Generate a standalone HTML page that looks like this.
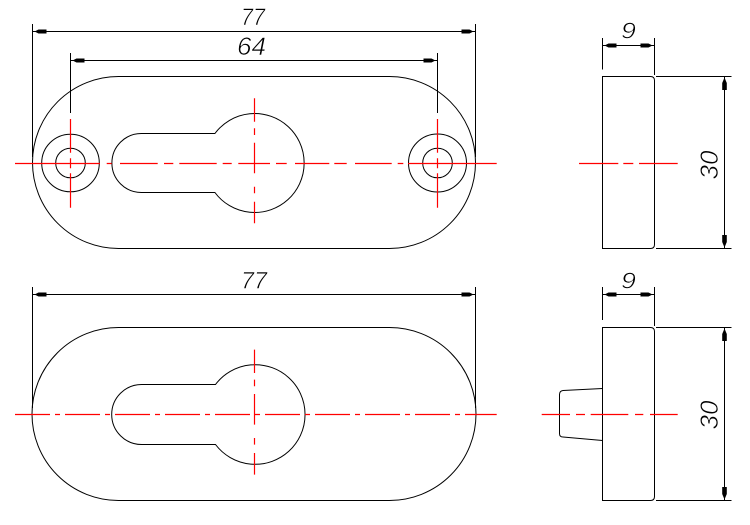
<!DOCTYPE html>
<html>
<head>
<meta charset="utf-8">
<style>
  html, body { margin: 0; padding: 0; background: #fff; }
  svg { display: block; }
  text { font-family: "Liberation Sans", "DejaVu Sans", sans-serif; font-style: italic; fill: #000; stroke: #fff; stroke-width: 0.6; }
</style>
</head>
<body>
<svg width="750" height="525" viewBox="0 0 750 525" xmlns="http://www.w3.org/2000/svg">
  <rect width="750" height="525" fill="#fff"/>

  <!-- ================= TOP FRONT VIEW ================= -->
  <g fill="none" stroke="#000" stroke-width="1">
    <path d="M118.5,76.5 L389.5,76.5 A86 86 0 0 1 389.5,248.5 L118.5,248.5 A86 86 0 0 1 118.5,76.5 Z"/>
    <path d="M214.9,133.5 A49.5 49.5 0 1 1 214.9,192.5 L141.4,192.5 A29.5 29.5 0 0 1 141.4,133.5 Z"/>
    <circle cx="70.5" cy="163" r="28.8"/>
    <circle cx="70.5" cy="163" r="14.8"/>
    <circle cx="437.5" cy="163" r="29"/>
    <circle cx="437.5" cy="163" r="14.8"/>
    <line x1="32.5" y1="24" x2="32.5" y2="157"/>
    <line x1="475.5" y1="24" x2="475.5" y2="157"/>
    <line x1="32.5" y1="31.5" x2="475.5" y2="31.5"/>
    <line x1="70.5" y1="53" x2="70.5" y2="113"/>
    <line x1="437.5" y1="53" x2="437.5" y2="113"/>
    <line x1="70.5" y1="60.5" x2="437.5" y2="60.5"/>
  </g>
  <g fill="#000">
    <polygon points="34.5,31.5 38.5,29.5 46.5,29.5 46.5,33.5 38.5,33.5"/>
    <polygon points="473.5,31.5 469.5,29.5 461.5,29.5 461.5,33.5 469.5,33.5"/>
    <polygon points="72.5,60.5 76.5,58.5 84.5,58.5 84.5,62.5 76.5,62.5"/>
    <polygon points="435.5,60.5 431.5,58.5 423.5,58.5 423.5,62.5 431.5,62.5"/>
  </g>
  <text x="241" y="25" font-size="24" textLength="24" lengthAdjust="spacingAndGlyphs">77</text>
  <text x="237" y="55" font-size="25" textLength="29" lengthAdjust="spacingAndGlyphs">64</text>

  <g stroke="#ff0000" stroke-width="1.2" fill="none">
    <path d="M15,163.5 H100 M106.7,163.5 H111.7 M120,163.5 H157.7 M164,163.5 H173.3 M179.3,163.5 H216.7 M222.7,163.5 H231.7 M238.3,163.5 H270 M276,163.5 H286.7 M295,163.5 H329.3 M334.3,163.5 H346.7 M355,163.5 H391.7 M397.7,163.5 H403.3 M408,163.5 H496.7"/>
    <path d="M70.5,119 V152.7 M70.5,158.3 V168.3 M70.5,173.3 V207.7"/>
    <path d="M437.5,119 V152.7 M437.5,158.3 V168.3 M437.5,173.3 V207.7"/>
    <path d="M254.5,98.3 V121.7 M254.5,128.3 V135 M254.5,142.7 V173.3 M254.5,186.7 V193.3 M254.5,201.7 V223.3"/>
  </g>

  <!-- ================= TOP SIDE VIEW ================= -->
  <g fill="none" stroke="#000" stroke-width="1">
    <path d="M650.5,76.5 L602.5,76.5 L602.5,248.5 L650.5,248.5 Q654.5,248.5 654.5,244.5 L654.5,80.5 Q654.5,76.5 650.5,76.5"/>
    <line x1="656" y1="76.5" x2="731.5" y2="76.5"/>
    <line x1="656" y1="248.5" x2="731.5" y2="248.5"/>
    <line x1="724.5" y1="76.5" x2="724.5" y2="248.5"/>
    <line x1="602.5" y1="38" x2="602.5" y2="69.5"/>
    <line x1="654.5" y1="38" x2="654.5" y2="75"/>
    <line x1="602.5" y1="45.5" x2="654.5" y2="45.5"/>
  </g>
  <g fill="#000">
    <polygon points="604.5,45.5 608.5,43.5 616.5,43.5 616.5,47.5 608.5,47.5"/>
    <polygon points="652.5,45.5 648.5,43.5 640.5,43.5 640.5,47.5 648.5,47.5"/>
    <polygon points="724.5,77.5 726.8,83 726.8,90 722.2,90 722.2,83"/>
    <polygon points="724.5,247.5 726.8,242 726.8,235 722.2,235 722.2,242"/>
  </g>
  <text x="621" y="38.5" font-size="23" textLength="15" lengthAdjust="spacingAndGlyphs">9</text>
  <text transform="translate(718,165) rotate(-90)" text-anchor="middle" font-size="25" textLength="29" lengthAdjust="spacingAndGlyphs">30</text>
  <g stroke="#ff0000" stroke-width="1.2" fill="none">
    <path d="M579,163.5 H618.3 M623.3,163.5 H633.3 M639,163.5 H677.7"/>
  </g>

  <!-- ================= BOTTOM FRONT VIEW ================= -->
  <g fill="none" stroke="#000" stroke-width="1">
    <path d="M118.5,327.5 L389.5,327.5 A86.5 86.5 0 0 1 389.5,500.5 L118.5,500.5 A86.5 86.5 0 0 1 118.5,327.5 Z"/>
    <path d="M215.5,384.5 A49.8 49.8 0 1 1 215.5,444.5 L141.7,444.5 A30 30 0 0 1 141.7,384.5 Z"/>
    <line x1="32.5" y1="287" x2="32.5" y2="408"/>
    <line x1="475.5" y1="287" x2="475.5" y2="408"/>
    <line x1="32.5" y1="294.5" x2="475.5" y2="294.5"/>
  </g>
  <g fill="#000">
    <polygon points="34.5,294.5 38.5,292.5 46.5,292.5 46.5,296.5 38.5,296.5"/>
    <polygon points="473.5,294.5 469.5,292.5 461.5,292.5 461.5,296.5 469.5,296.5"/>
  </g>
  <text x="241" y="288.5" font-size="24" textLength="26" lengthAdjust="spacingAndGlyphs">77</text>
  <g stroke="#ff0000" stroke-width="1.2" fill="none">
    <line x1="15" y1="414.5" x2="496.7" y2="414.5" stroke-dasharray="35 5 5 5"/>
    <path d="M254.5,349.6 V373 M254.5,379.6 V386.3 M254.5,394 V424.6 M254.5,438 V444.6 M254.5,453 V474.6"/>
  </g>

  <!-- ================= BOTTOM SIDE VIEW ================= -->
  <g fill="none" stroke="#000" stroke-width="1">
    <path d="M650.5,327.5 L602.5,327.5 L602.5,500.5 L650.5,500.5 Q654.5,500.5 654.5,496.5 L654.5,331.5 Q654.5,327.5 650.5,327.5"/>
    <line x1="656" y1="327.5" x2="731.5" y2="327.5"/>
    <line x1="656" y1="500.5" x2="731.5" y2="500.5"/>
    <line x1="724.5" y1="327.5" x2="724.5" y2="500.5"/>
    <line x1="602.5" y1="287" x2="602.5" y2="320"/>
    <line x1="654.5" y1="287" x2="654.5" y2="326"/>
    <line x1="602.5" y1="294.5" x2="654.5" y2="294.5"/>
    <path d="M602.5,388.5 L563,390.5 Q559.5,391 559.5,394.5 L559.5,433.5 Q559.5,437 563,437 L602.5,440.5"/>
  </g>
  <g fill="#000">
    <polygon points="604.5,294.5 608.5,292.5 616.5,292.5 616.5,296.5 608.5,296.5"/>
    <polygon points="652.5,294.5 648.5,292.5 640.5,292.5 640.5,296.5 648.5,296.5"/>
    <polygon points="724.5,328.5 726.8,334 726.8,341 722.2,341 722.2,334"/>
    <polygon points="724.5,499.5 726.8,494 726.8,487 722.2,487 722.2,494"/>
  </g>
  <text x="621" y="288.5" font-size="23" textLength="15" lengthAdjust="spacingAndGlyphs">9</text>
  <text transform="translate(718,415) rotate(-90)" text-anchor="middle" font-size="25" textLength="29" lengthAdjust="spacingAndGlyphs">30</text>
  <g stroke="#ff0000" stroke-width="1.2" fill="none">
    <path d="M541.7,414.5 H570 M576,414.5 H585 M590.7,414.5 H628.3 M635,414.5 H643.3 M650,414.5 H677.7"/>
  </g>
</svg>
</body>
</html>
